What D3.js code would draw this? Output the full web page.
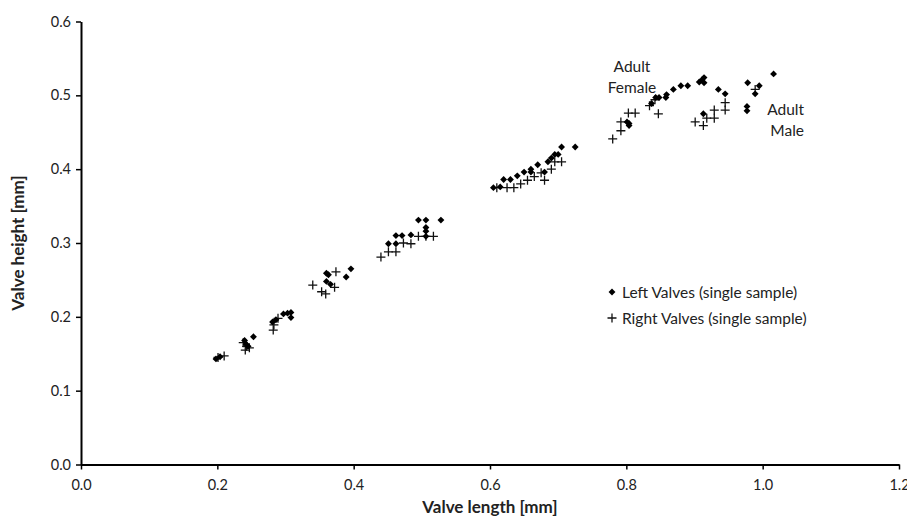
<!DOCTYPE html>
<html>
<head>
<meta charset="utf-8">
<script src="https://cdn.jsdelivr.net/npm/d3@7"></script>
<style>
  body { margin: 0; background: #fff; }
  text { font-family: Lato, "Open Sans", sans-serif; fill: #222; }
</style>
</head>
<body>
<svg id="chart" width="907" height="522"></svg>
<script>
// left valves [length, height]
const leftValves = [
  [0.198, 0.143], [0.204, 0.146], [0.240, 0.168], [0.242, 0.163], [0.245, 0.160], [0.253, 0.173],
  [0.281, 0.193], [0.286, 0.196], [0.297, 0.204], [0.303, 0.205], [0.308, 0.206], [0.308, 0.199],
  [0.360, 0.259], [0.360, 0.248], [0.363, 0.257], [0.389, 0.254], [0.396, 0.265], [0.366, 0.244],
  [0.451, 0.299], [0.462, 0.299], [0.462, 0.310], [0.471, 0.310], [0.484, 0.311],
  [0.495, 0.331], [0.506, 0.331], [0.506, 0.321], [0.506, 0.316], [0.506, 0.309], [0.528, 0.331],
  [0.605, 0.375], [0.615, 0.376], [0.620, 0.386], [0.630, 0.386], [0.640, 0.391], [0.650, 0.396],
  [0.660, 0.396], [0.660, 0.400], [0.670, 0.406], [0.680, 0.396], [0.685, 0.410], [0.690, 0.415],
  [0.695, 0.420], [0.700, 0.420], [0.705, 0.430], [0.725, 0.430],
  [0.801, 0.464], [0.804, 0.462], [0.804, 0.459], [0.837, 0.489], [0.843, 0.497], [0.848, 0.497],
  [0.858, 0.497], [0.859, 0.501], [0.869, 0.508], [0.880, 0.513], [0.890, 0.513],
  [0.907, 0.518], [0.911, 0.521], [0.914, 0.524], [0.914, 0.517], [0.913, 0.475],
  [0.935, 0.508], [0.945, 0.502], [0.977, 0.485], [0.977, 0.479], [0.978, 0.517],
  [0.989, 0.502], [0.995, 0.513], [1.016, 0.529]
];
// right valves [length, height]
const rightValves = [
  [0.201, 0.145], [0.210, 0.147], [0.238, 0.165], [0.243, 0.160], [0.241, 0.155], [0.247, 0.158],
  [0.282, 0.182], [0.283, 0.189], [0.289, 0.198],
  [0.340, 0.243], [0.353, 0.234], [0.359, 0.231], [0.374, 0.261], [0.372, 0.240],
  [0.440, 0.281], [0.451, 0.288], [0.462, 0.288], [0.473, 0.300], [0.484, 0.299],
  [0.495, 0.309], [0.506, 0.309], [0.517, 0.309],
  [0.610, 0.375], [0.625, 0.375], [0.635, 0.375], [0.645, 0.380], [0.655, 0.385], [0.665, 0.390],
  [0.675, 0.395], [0.680, 0.385], [0.690, 0.400], [0.695, 0.410], [0.705, 0.410],
  [0.780, 0.441], [0.792, 0.452], [0.792, 0.464], [0.803, 0.476], [0.813, 0.476],
  [0.834, 0.486], [0.842, 0.494], [0.847, 0.475],
  [0.901, 0.464], [0.913, 0.459], [0.918, 0.469], [0.929, 0.469], [0.929, 0.480],
  [0.945, 0.490], [0.945, 0.480], [0.989, 0.508]
];
const xTicks = [0, 0.2, 0.4, 0.6, 0.8, 1.0, 1.2];
const yTicks = [0, 0.1, 0.2, 0.3, 0.4, 0.5, 0.6];

const svg = d3.select("#chart");
const x = d3.scaleLinear().domain([0, 1.2]).range([81, 899]);
const y = d3.scaleLinear().domain([0, 0.6]).range([464.5, 21.5]);

// axes
const xAxis = svg.append("g").attr("transform", `translate(0,${y(0)})`)
  .call(d3.axisBottom(x).tickValues(xTicks).tickFormat(d3.format(".1f")).tickSize(5).tickSizeOuter(0));
const yAxis = svg.append("g").attr("transform", `translate(${x(0)},0)`)
  .call(d3.axisLeft(y).tickValues(yTicks).tickFormat(d3.format(".1f")).tickSize(5).tickSizeOuter(0));
[xAxis, yAxis].forEach(a => {
  a.select(".domain").attr("stroke", "#000").attr("stroke-width", 2);
  a.selectAll(".tick line").attr("stroke", "#000").attr("stroke-width", 1.5);
  a.selectAll(".tick text").style("font-size", "14.5px").attr("fill", "#222");
});
xAxis.selectAll(".tick text").attr("dy", "1.2em");
yAxis.selectAll(".tick text").attr("x", -10);

// axis titles
svg.append("text").attr("x", (x(0) + x(1.2)) / 2).attr("y", 513)
  .attr("text-anchor", "middle").style("font-size", "17px").style("font-weight", "bold")
  .text("Valve length [mm]");
svg.append("text").attr("transform", `translate(24,${(y(0) + y(0.6)) / 2}) rotate(-90)`)
  .attr("text-anchor", "middle").style("font-size", "17px").style("font-weight", "bold")
  .text("Valve height [mm]");

const diamond = d3.symbol().type(d3.symbolDiamond2).size(30);
const cross = "M-4.5,0H4.5M0,-4.5V4.5";

svg.append("g").selectAll("path").data(rightValves).join("path")
  .attr("transform", d => `translate(${x(d[0])},${y(d[1])})`)
  .attr("d", cross).attr("stroke", "#111").attr("stroke-width", 1.3).attr("fill", "none");
svg.append("g").selectAll("path").data(leftValves).join("path")
  .attr("transform", d => `translate(${x(d[0])},${y(d[1])})`)
  .attr("d", diamond).attr("fill", "#000");

// annotations
const note = svg.append("g").style("font-size", "15.5px");
note.append("text").attr("x", 632).attr("y", 72).attr("text-anchor", "middle").text("Adult");
note.append("text").attr("x", 632).attr("y", 93).attr("text-anchor", "middle").text("Female");
note.append("text").attr("x", 804).attr("y", 115).attr("text-anchor", "end").text("Adult");
note.append("text").attr("x", 804).attr("y", 136).attr("text-anchor", "end").text("Male");

// legend
const legend = svg.append("g").style("font-size", "15.5px");
legend.append("path").attr("transform", "translate(612,292)").attr("d", diamond).attr("fill", "#000");
legend.append("text").attr("x", 622).attr("y", 297.5).text("Left Valves (single sample)");
legend.append("path").attr("transform", "translate(612,318)").attr("d", cross)
  .attr("stroke", "#111").attr("stroke-width", 1.3);
legend.append("text").attr("x", 622).attr("y", 323.5).text("Right Valves (single sample)");
</script>
</body>
</html>
